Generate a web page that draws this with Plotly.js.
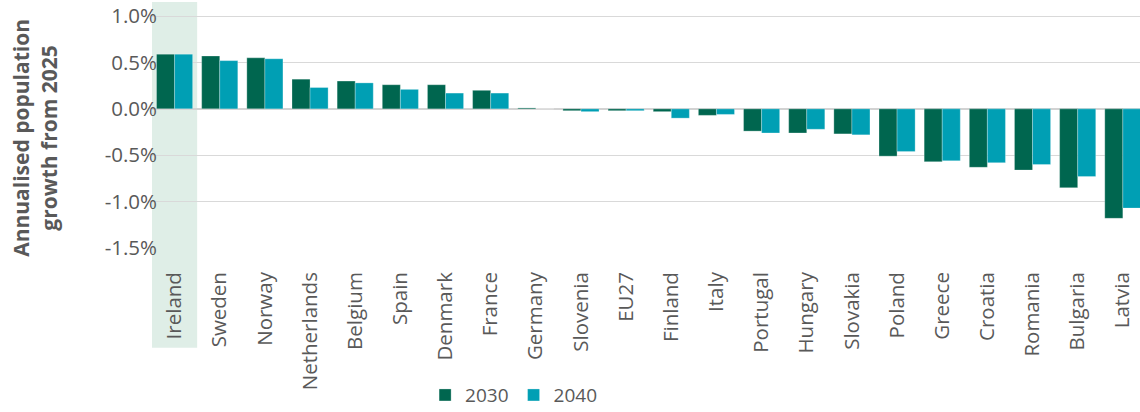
<!DOCTYPE html>
<html>
<head>
<meta charset="utf-8">
<script src="https://cdn.plot.ly/plotly-3.0.1.min.js"></script>
<style>
  html, body { margin: 0; padding: 0; background: #ffffff; }
  #chart { width: 1140px; height: 412px; }
</style>
</head>
<body>
<div id="chart"></div>
<script>
// Annualised population growth from 2025, by country
const countries = ["Ireland", "Sweden", "Norway", "Netherlands", "Belgium", "Spain",
  "Denmark", "France", "Germany", "Slovenia", "EU27", "Finland", "Italy", "Portugal",
  "Hungary", "Slovakia", "Poland", "Greece", "Croatia", "Romania", "Bulgaria", "Latvia"];

const growth2030 = [0.59, 0.57, 0.55, 0.32, 0.30, 0.26, 0.26, 0.20, 0.01, -0.02, -0.02,
  -0.03, -0.07, -0.24, -0.26, -0.27, -0.51, -0.57, -0.63, -0.66, -0.85, -1.18];

const growth2040 = [0.59, 0.52, 0.54, 0.23, 0.28, 0.21, 0.17, 0.17, 0.00, -0.03, -0.02,
  -0.10, -0.06, -0.26, -0.22, -0.28, -0.46, -0.56, -0.58, -0.60, -0.73, -1.07];

const yTickValues = [-1.5, -1.0, -0.5, 0.0, 0.5, 1.0];
const yTickLabels = ["-1.5%", "-1.0%", "-0.5%", "0.0%", "0.5%", "1.0%"];

const highlighted = "Ireland";

const textGray = "#595959";
const font = "'Open Sans', 'Segoe UI', sans-serif";

const traces = [
  {
    type: "bar", name: "2030", x: countries, y: growth2030,
    marker: { color: "#00664f", line: { color: "rgba(255,255,255,0.35)", width: 0.8 } },
    hoverinfo: "skip"
  },
  {
    type: "bar", name: "2040", x: countries, y: growth2040,
    marker: { color: "#009fb4", line: { color: "rgba(255,255,255,0.35)", width: 0.8 } },
    hoverinfo: "skip"
  }
];

const hi = countries.indexOf(highlighted);

const layout = {
  width: 1140, height: 412,
  margin: { l: 152, r: 0, t: 2, b: 164, pad: 0, autoexpand: false },
  paper_bgcolor: "#ffffff", plot_bgcolor: "rgba(0,0,0,0)",
  barmode: "group", bargap: 0.2, bargroupgap: 0,
  font: { family: font, color: textGray, size: 20 },
  showlegend: true,
  legend: {
    orientation: "h", x: 0.366, xanchor: "center", y: -0.598, yanchor: "middle",
    font: { family: font, size: 19, color: textGray },
    itemwidth: 30, traceorder: "normal", bgcolor: "rgba(0,0,0,0)"
  },
  xaxis: {
    type: "category", range: [-0.5, 21.38], fixedrange: true, automargin: false,
    tickangle: -90, ticks: "", showgrid: false, showline: false, zeroline: false,
    ticklabelstandoff: 19,
    tickfont: { family: font, size: 20.5, color: textGray }
  },
  yaxis: {
    range: [-1.5, 1.152], fixedrange: true, automargin: false,
    tickvals: yTickValues, ticktext: yTickLabels,
    ticks: "", showline: false,
    gridcolor: "#d9d9d9", gridwidth: 1,
    zeroline: true, zerolinecolor: "#d2d2d2", zerolinewidth: 2,
    ticklabelstandoff: -6,
    tickfont: { family: font, size: 20.5, color: textGray }
  },
  shapes: [
    {
      type: "rect", layer: "below",
      xref: "x", x0: hi - 0.5, x1: hi + 0.5,
      yref: "paper", y0: -0.405, y1: 1,
      fillcolor: "#dfeee7", line: { width: 0 }
    }
  ],
  annotations: [
    {
      text: "<b>Annualised population<br>growth from 2025</b>",
      xref: "paper", yref: "paper", x: -0.1184, y: 0.448,
      xanchor: "center", yanchor: "middle", textangle: -90, showarrow: false,
      font: { family: font, size: 21, color: textGray }
    }
  ]
};

Plotly.newPlot("chart", traces, layout, { staticPlot: true, displayModeBar: false });
</script>
</body>
</html>
